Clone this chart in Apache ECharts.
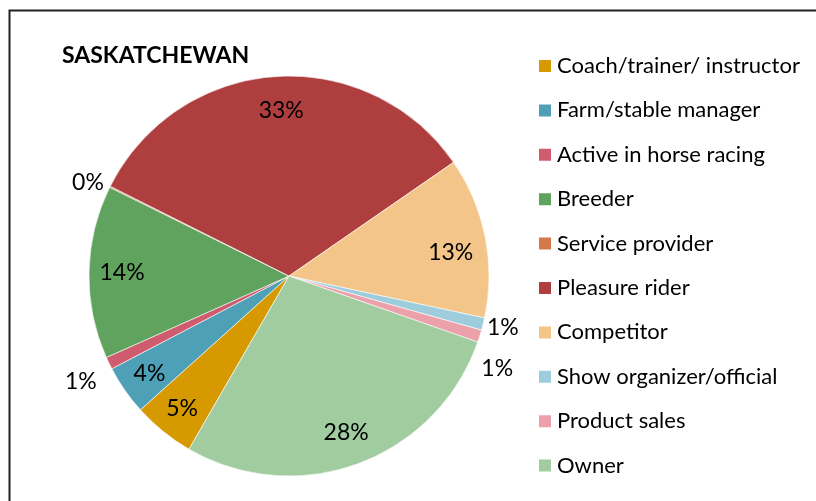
<!DOCTYPE html>
<html>
<head>
<meta charset="utf-8">
<title>Saskatchewan</title>
<script src="https://cdn.jsdelivr.net/npm/echarts@6/dist/echarts.min.js"></script>
<style>
    html, body { margin: 0; padding: 0; background: #fff; }
    #main { width: 816px; height: 501px; }
</style>
</head>
<body>
<div id="main"></div>
<script>
// categories in legend order (also clockwise order of slices)
const categories = [
    'Coach/trainer/ instructor',
    'Farm/stable manager',
    'Active in horse racing',
    'Breeder',
    'Service provider',
    'Pleasure rider',
    'Competitor',
    'Show organizer/official',
    'Product sales',
    'Owner'
];
// percent of respondents
const shares = [5, 4, 1, 14, 0.1, 33, 13, 1, 1, 28];
const colors = ['#D69A00', '#4DA0B5', '#CF5B6E', '#5FA35E', '#D3784A', '#AF3F3F', '#F4C588', '#9DCCDC', '#ECA0A9', '#A0CC9F'];
// small slices get their label outside, nudged like excel's best fit
const outsideLabels = ['Active in horse racing', 'Service provider', 'Show organizer/official', 'Product sales'];
const labelNudge = {
    'Active in horse racing': [0, 15],
    'Service provider': [6, -1],
    'Show organizer/official': [-9, 2],
    'Product sales': [-11, 30],
    'Pleasure rider': [4, 4],
    'Competitor': [-5, 10],
    'Breeder': [3, 0],
    'Owner': [-2, -3]
};

const FONT = 'Lato';

const pieData = categories.map((name, i) => ({
    name: name,
    value: shares[i],
    itemStyle: { color: colors[i] }
}));

const labelData = categories.map((name, i) => {
    const outside = outsideLabels.indexOf(name) >= 0;
    return {
        name: name,
        value: shares[i],
        label: { position: outside ? 'outside' : 'inside' },
        labelLine: { show: false, length: 8, length2: 0 }
    };
});

const myChart = echarts.init(document.getElementById('main'));
myChart.setOption({
    animation: false,
    title: {
        text: 'SASKATCHEWAN',
        left: 62,
        top: 44,
        padding: 0,
        textStyle: { fontFamily: FONT, fontSize: 23, fontWeight: 'bold', color: '#000' }
    },
    legend: {
        orient: 'vertical',
        left: 537,
        top: 55,
        padding: 0,
        itemWidth: 14,
        itemHeight: 14,
        itemGap: 22.4,
        icon: 'rect',
        selectedMode: false,
        data: categories,
        textStyle: { fontFamily: FONT, fontSize: 22, lineHeight: 22, color: '#000' }
    },
    graphic: [{
        type: 'rect',
        shape: { x: 9.5, y: 10.5, width: 900, height: 600 },
        style: { fill: 'none', stroke: '#222', lineWidth: 2 },
        silent: true
    }],
    series: [
        {
            type: 'pie',
            center: [289, 276],
            radius: [0, 200],
            startAngle: 240,
            clockwise: true,
            avoidLabelOverlap: false,
            label: { show: false },
            labelLine: { show: false },
            itemStyle: { borderColor: '#fff', borderWidth: 0.6 },
            data: pieData
        },
        {
            // transparent ring used only to place the percentage labels
            type: 'pie',
            center: [289, 276],
            radius: [134, 200],
            startAngle: 240,
            clockwise: true,
            silent: true,
            avoidLabelOverlap: false,
            legendHoverLink: false,
            itemStyle: { color: 'rgba(0,0,0,0)' },
            label: {
                show: true,
                fontFamily: FONT,
                fontSize: 23,
                color: '#000',
                formatter: p => Math.round(p.value) + '%'
            },
            labelLayout: function (params) {
                const nudge = labelNudge[categories[params.dataIndex]];
                if (!nudge) return {};
                return { dx: nudge[0], dy: nudge[1], hideOverlap: false, moveOverlap: false };
            },
            data: labelData
        }
    ]
});
</script>
</body>
</html>
